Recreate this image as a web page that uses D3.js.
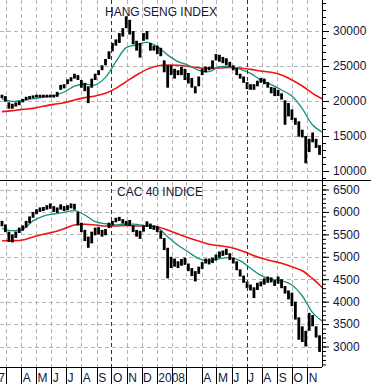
<!DOCTYPE html>
<meta charset="utf-8">
<style>
body { margin: 0; background: #fff; }
text { font-family: Arial, "Liberation Sans", sans-serif; font-size: 12px; fill: #15153a; }
.grid line { stroke: #b4b4b4; stroke-dasharray: 4,3; shape-rendering: crispEdges; }
.marker { stroke: #8b0c0c; stroke-dasharray: 4,3; shape-rendering: crispEdges; }
.bars line { stroke: #000; stroke-width: 2.8; }
.fast { fill: none; stroke: #168f80; stroke-width: 1.3; }
.slow { fill: none; stroke: #f21414; stroke-width: 1.6; }
.frame { stroke: #000; shape-rendering: crispEdges; }
</style>
<body>
<svg width="371" height="384"></svg>
<script src="https://d3js.org/d3.v7.min.js"></script>
<script>

// weekly high / low, one value per week starting the week of 21 Feb 2007
var hsiHigh = [20900,20700,19800,19600,19800,20000,20300,20600,20700,20800,
  20900,20900,20900,20900,20900,20900,21300,22300,22400,23100,
  23400,23900,23700,23000,22600,22100,23200,23900,24400,25100,
  26000,27100,28300,28800,29700,30400,32100,31600,30000,28600,
  28300,29700,30000,28300,27900,27900,27600,25800,25100,25100,
  24600,24400,24900,24600,24000,23300,22100,23500,24600,24900,
  24900,25800,26700,26600,26300,26100,25600,25100,24700,23900,
  23500,22700,22400,22400,22900,23300,23200,22700,22000,21900,
  21600,21100,20100,19700,18800,17600,17100,15900,15000,14600,
  15500,14600,13700];
var hsiLow = [20400,19900,18900,18900,19200,19400,19800,20100,20300,20400,
  20500,20500,20500,20500,20500,20500,20600,21600,21800,22400,
  22800,23200,23000,21900,21400,19700,21900,23000,23700,24400,
  25100,26000,27100,27900,28300,29200,30400,29500,28100,27200,
  26200,28600,28800,27200,27200,26700,26400,24100,21900,23700,
  23200,23700,23700,23000,22500,21900,21100,22100,23700,24100,
  24400,24600,25800,25600,25400,25100,24900,24400,23700,23200,
  22600,21700,21600,21600,22100,22600,22400,21900,21100,20700,
  20700,20200,16600,17800,17300,16600,14900,14800,11100,12700,
  14100,13300,12300];

var cacHigh = [5800,5720,5560,5500,5560,5650,5700,5800,5900,6000,
  6060,6100,6110,6150,6190,6130,6100,6170,6130,6150,
  6190,6180,6000,5760,5600,5450,5560,5650,5660,5600,
  5620,5760,5800,5870,5890,5840,5800,5820,5700,5600,
  5580,5700,5790,5740,5700,5680,5580,5420,5200,5000,
  4960,4900,4950,4980,4850,4750,4680,4780,4880,4960,
  4960,4980,5050,5120,5140,5180,5080,4980,4900,4720,
  4580,4450,4380,4320,4420,4450,4520,4560,4540,4480,
  4560,4500,4350,4250,4200,4000,3650,3450,3350,3750,
  3700,3450,3250];
var cacLow = [5680,5550,5330,5320,5420,5530,5580,5650,5750,5870,
  5950,6000,6020,6050,6070,6000,5980,6050,6020,6040,
  6080,6050,5700,5550,5350,5200,5300,5480,5500,5450,
  5480,5640,5700,5770,5800,5740,5700,5690,5550,5450,
  5400,5560,5670,5620,5600,5550,5400,5150,4520,4750,
  4780,4750,4800,4820,4680,4570,4450,4620,4730,4850,
  4830,4860,4920,4980,5020,5040,4930,4850,4700,4560,
  4420,4300,4250,4080,4260,4340,4380,4420,4430,4350,
  4400,4300,4180,4050,3900,3600,3150,3100,3000,3350,
  3450,3200,2880];

// moving averages read every third week
var maWeeks = [0,3,6,9,12,15,18,21,24,27,30,33,36,39,42,45,48,51,54,57,60,63,66,69,72,75,78,81,84,87,90,93];
var hsiFast = [20300,19950,20100,20330,20570,20760,21290,22140,22430,22290,23380,25620,27620,28000,28380,27760,
  26570,25620,25100,24380,24190,24900,24900,24570,23950,23000,22330,21570,20710,18900,16570,15480];
var hsiSlow = [18480,18620,18810,18950,19240,19520,19760,20140,20480,20710,21100,21810,22760,23710,24520,25000,
  25140,25100,24950,24760,24670,24710,24810,24710,24520,24290,24100,23710,23000,22140,21100,20240];
var cacFast = [5635,5582,5610,5800,5909,5954,5991,6028,5932,5782,5738,5709,5731,5724,5686,5649,
  5448,5256,5107,4958,4906,4958,4980,4913,4743,4587,4498,4467,4371,4126,3754,3553];
var cacSlow = [5359,5359,5374,5441,5501,5553,5627,5709,5724,5709,5686,5686,5701,5686,5686,5671,
  5597,5508,5426,5352,5278,5248,5211,5145,5055,4973,4913,4855,4779,4690,4512,4298];

var hsiTicks = [10000,15000,20000,25000,30000];
var cacTicks = [3000,3500,4000,4500,5000,5500,6000,6500];
var monthLabels = ["2007","","","A","M","J","J","A","S","O","N","D",
  "2008","","","A","M","J","J","A","S","O","N"];
var markerDates = ["2007-10-01","2008-07-01"];

var svg = d3.select("svg"),
    W = 322,
    axisY = 367;

function weekDate(k) { return d3.timeDay.offset(new Date(2007, 1, 21), 7 * k); }

var x = d3.scaleTime()
    .domain([new Date(2007, 1, 17), new Date(2008, 11, 1)])
    .range([0, W]);

var months = d3.timeMonth.range(new Date(2007, 0, 1), new Date(2008, 11, 1));

svg.append("clipPath").attr("id", "plot")
  .append("rect").attr("x", 0).attr("y", 0).attr("width", W).attr("height", axisY);

// vertical month grid
svg.append("g").attr("class", "grid")
  .selectAll("line")
  .data(months.filter(function(m) { return x(m) > 1; }))
  .enter().append("line")
    .attr("x1", function(d) { return Math.round(x(d)) + 0.5; })
    .attr("x2", function(d) { return Math.round(x(d)) + 0.5; })
    .attr("y1", 0).attr("y2", axisY);

var panels = [
  { title: "HANG SENG INDEX", tx: 105, ty: 15.5, high: hsiHigh, low: hsiLow, fast: hsiFast, slow: hsiSlow,
    ticks: hsiTicks, minor: d3.range(9000, 35000, 1000),
    y: d3.scaleLinear().domain([10000, 30000]).range([171, 31]) },
  { title: "CAC 40 INDICE", tx: 117, ty: 195.5, high: cacHigh, low: cacLow, fast: cacFast, slow: cacSlow,
    ticks: cacTicks, minor: d3.range(2600, 6700, 100),
    y: d3.scaleLinear().domain([3000, 6500]).range([346.5, 189.5]) }
];

panels.forEach(function(p) {
  var y = p.y;

  svg.append("g").attr("class", "grid")
    .selectAll("line")
    .data(p.ticks)
    .enter().append("line")
      .attr("x1", 0).attr("x2", W)
      .attr("y1", function(d) { return Math.round(y(d)) + 0.5; })
      .attr("y2", function(d) { return Math.round(y(d)) + 0.5; });

  svg.append("text")
      .attr("x", p.tx).attr("y", p.ty)
      .text(p.title);

  var line = d3.line()
      .x(function(d, i) { return x(weekDate(maWeeks[i])); })
      .y(function(d) { return y(d); })
      .curve(d3.curveCatmullRom);

  svg.append("path").attr("class", "slow").attr("clip-path", "url(#plot)").attr("d", line(p.slow));
  svg.append("path").attr("class", "fast").attr("clip-path", "url(#plot)").attr("d", line(p.fast));

  svg.append("g").attr("class", "bars")
    .selectAll("line")
    .data(p.high)
    .enter().append("line")
      .attr("x1", function(d, i) { return x(weekDate(i)); })
      .attr("x2", function(d, i) { return x(weekDate(i)); })
      .attr("y1", function(d) { return y(d); })
      .attr("y2", function(d, i) { return y(p.low[i]); });

  svg.append("g")
      .attr("transform", "translate(" + W + ",0)")
      .call(d3.axisRight(y).tickValues(p.minor).tickSize(4).tickFormat(""))
    .select(".domain").remove();

  var ax = svg.append("g")
      .attr("transform", "translate(" + W + ",0)")
      .call(d3.axisRight(y).tickValues(p.ticks).tickSize(7).tickPadding(4).tickFormat(d3.format("d")));
  ax.select(".domain").remove();
  ax.selectAll("text").attr("font-size", 12).attr("font-family", "Arial, 'Liberation Sans', sans-serif").attr("fill", "#15153a");
});

// cycle markers
svg.append("g")
  .selectAll("line")
  .data(markerDates.map(function(d) { return d3.timeParse("%Y-%m-%d")(d); }))
  .enter().append("line")
    .attr("class", "marker")
    .attr("x1", function(d) { return Math.round(x(d)) + 0.5; })
    .attr("x2", function(d) { return Math.round(x(d)) + 0.5; })
    .attr("y1", 0).attr("y2", axisY);

// frame
svg.append("line").attr("class", "frame").attr("x1", 0).attr("x2", 371).attr("y1", 180.5).attr("y2", 180.5);
svg.append("line").attr("class", "frame").attr("x1", W + 0.5).attr("x2", W + 0.5).attr("y1", 0).attr("y2", axisY);
svg.append("line").attr("class", "frame").attr("x1", 0).attr("x2", W).attr("y1", axisY + 0.5).attr("y2", axisY + 0.5);

// month axis
var mx = svg.append("g");
mx.selectAll("line")
  .data(months)
  .enter().append("line")
    .attr("class", "frame")
    .attr("x1", function(d) { return Math.round(x(d)) + 0.5; })
    .attr("x2", function(d) { return Math.round(x(d)) + 0.5; })
    .attr("y1", axisY).attr("y2", 384);
mx.selectAll("text")
  .data(months)
  .enter().append("text")
    .attr("x", function(d) { return x(d) + 1.5; })
    .attr("y", 381.5)
    .text(function(d, i) { return monthLabels[i]; });

</script>
</body>
